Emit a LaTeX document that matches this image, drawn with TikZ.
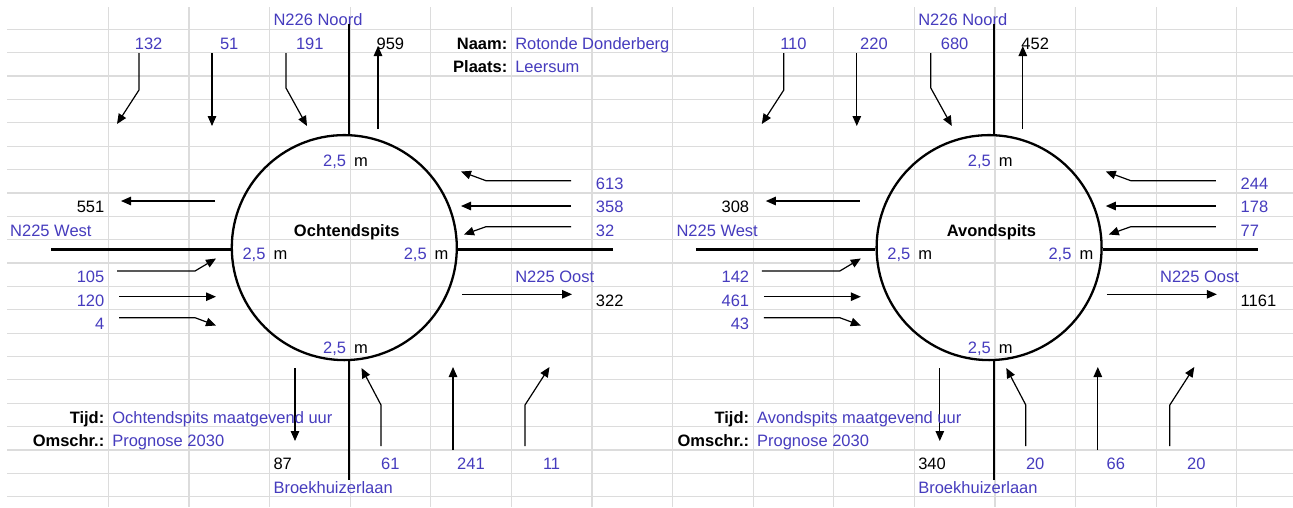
\documentclass[tikz,border=0pt]{standalone}
\usepackage{fontspec}
\setmainfont{Liberation Sans}
\usetikzlibrary{arrows.meta}
\definecolor{celltext}{RGB}{70,60,190}
\definecolor{gridgray}{RGB}{220,220,220}

% traffic counts: north in (3) / out, east in (3) / out
\newcommand{\flowsNE}[8]{\def\vNa{#1}\def\vNb{#2}\def\vNc{#3}\def\vNo{#4}%
  \def\vEa{#5}\def\vEb{#6}\def\vEc{#7}\def\vEo{#8}}
% traffic counts: west out / in (3), south out / in (3)
\newcommand{\flowsWS}[8]{\def\vWo{#1}\def\vWa{#2}\def\vWb{#3}\def\vWc{#4}%
  \def\vSo{#5}\def\vSa{#6}\def\vSb{#7}\def\vSc{#8}}

% one roundabout sheet: #1 x of the west road name, #2 title, #3 time text
\newcommand{\roundabout}[3]{%
  % the ring and its four roads
  \node[ring] (ring) at (344.3,247.6) {};
  \node[key, ct] (title) at (346.7,236.2) {#2};
  \coordinate (nend) at (349,24);
  \coordinate (send) at (349,480);
  \coordinate (wend) at (51,249.3);
  \coordinate (eend) at (613,249.3);
  \node[lab, lt] (nname) at (273.3,25.8) {N226 Noord};
  \node[lab, lt] (wname) at (#1,236.2) {N225 West};
  \node[lab, lt] (ename) at (515.1,282.9) {N225 Oost};
  \node[lab, lt] (sname) at (273.3,493.2) {Broekhuizerlaan};
  \draw[road] (nend) -- (ring.north -| nend);
  \draw[road] (send) -- (ring.south -| send);
  \draw[road] (wend) -- (ring.west |- wend);
  \draw[road] (eend) -- (ring.east |- eend);
  % lane widths
  \node[lab, rt] (wtop) at (346.3,166) {2,5};
  \node[blk, lt] (wtopm) at (353.9,166) {m};
  \node[lab, rt] (wlft) at (265.7,259.5) {2,5};
  \node[blk, lt] (wlftm) at (273.3,259.5) {m};
  \node[lab, rt] (wrgt) at (426.9,259.5) {2,5};
  \node[blk, lt] (wrgtm) at (434.5,259.5) {m};
  \node[lab, rt] (wbot) at (346.3,353) {2,5};
  \node[blk, lt] (wbotm) at (353.9,353) {m};
  % north arm
  \node[lab, ct] (nin1) at (148.6,49.2) {\vNa};
  \node[lab, ct] (nin2) at (229.2,49.2) {\vNb};
  \node[lab, ct] (nin3) at (309.8,49.2) {\vNc};
  \node[blk, ct] (nout) at (390.4,49.2) {\vNo};
  \coordinate (n1s) at (139,53);  \coordinate (n1e) at (117,124);
  \coordinate (n2s) at (212,53);  \coordinate (n2e) at (212,126);
  \coordinate (n3s) at (286,53);  \coordinate (n3e) at (307,126);
  \coordinate (nos) at (378,129); \coordinate (noe) at (378,46);
  \draw[flow] (n1s) -- (139,90) -- (n1e);
  \draw[flow] (n2s) -- (n2e);
  \draw[flow] (n3s) -- (286,88) -- (n3e);
  \draw[flow] (nos) -- (noe);
  % east arm
  \node[lab, lt] (ein1) at (595.7,189.4) {\vEa};
  \node[lab, lt] (ein2) at (595.7,212.8) {\vEb};
  \node[lab, lt] (ein3) at (595.7,236.2) {\vEc};
  \node[blk, lt] (eout) at (595.7,306.3) {\vEo};
  \coordinate (e1s) at (571,180.7); \coordinate (e1e) at (461,171.5);
  \coordinate (e2s) at (571,206);   \coordinate (e2e) at (461,206);
  \coordinate (e3s) at (571,226.7); \coordinate (e3e) at (464,234.5);
  \coordinate (eos) at (462,294.3); \coordinate (eoe) at (572,294.3);
  \draw[flow] (e1s) -- (486,180.7) -- (e1e);
  \draw[flow] (e2s) -- (e2e);
  \draw[flow] (e3s) -- (486,226.7) -- (e3e);
  \draw[flow] (eos) -- (eoe);
  % west arm
  \node[blk, rt] (wout) at (104.5,212.8) {\vWo};
  \node[lab, rt] (win1) at (104.5,282.9) {\vWa};
  \node[lab, rt] (win2) at (104.5,306.3) {\vWb};
  \node[lab, rt] (win3) at (104.5,329.6) {\vWc};
  \coordinate (wos) at (215,201);   \coordinate (woe) at (121,201);
  \coordinate (w1s) at (117,271);   \coordinate (w1e) at (216,258.5);
  \coordinate (w2s) at (119,296.7); \coordinate (w2e) at (216,296.7);
  \coordinate (w3s) at (119,317.7); \coordinate (w3e) at (216,325.5);
  \draw[flow] (wos) -- (woe);
  \draw[flow] (w1s) -- (195,271) -- (w1e);
  \draw[flow] (w2s) -- (w2e);
  \draw[flow] (w3s) -- (195,317.7) -- (w3e);
  % south arm
  \node[blk, lt] (sout) at (273.3,469.9) {\vSo};
  \node[lab, ct] (sin1) at (390.4,469.9) {\vSa};
  \node[lab, ct] (sin2) at (471.0,469.9) {\vSb};
  \node[lab, ct] (sin3) at (551.6,469.9) {\vSc};
  \coordinate (sos) at (295,368);   \coordinate (soe) at (295,441);
  \coordinate (s1s) at (381,446);   \coordinate (s1e) at (361.5,368);
  \coordinate (s2s) at (453,450);   \coordinate (s2e) at (453,367);
  \coordinate (s3s) at (525,446);   \coordinate (s3e) at (549.5,367);
  \draw[flow] (sos) -- (soe);
  \draw[flow] (s1s) -- (381,405) -- (s1e);
  \draw[flow] (s2s) -- (s2e);
  \draw[flow] (s3s) -- (525,405) -- (s3e);
  % period and description
  \node[key, rt] (tijdk) at (104.5,423.1) {Tijd:};
  \node[lab, lt] (tijdv) at (112.1,423.1) {#3};
  \node[key, rt] (omsk) at (104.5,446.5) {Omschr.:};
  \node[lab, lt] (omsv) at (112.1,446.5) {Prognose 2030};
}

\begin{document}
\begin{tikzpicture}[x=1pt,y=-1pt,
  txt/.style={inner sep=0pt, font=\fontsize{16.5}{19}\selectfont},
  lab/.style={txt, text=celltext},
  blk/.style={txt, text=black},
  key/.style={txt, font=\fontsize{16.5}{19}\selectfont\bfseries},
  lt/.style={anchor=base west},
  rt/.style={anchor=base east},
  ct/.style={anchor=base},
  flow/.style={line width=1.2pt, -{Triangle[length=10pt,width=8.5pt]}},
  road/.style={line width=2.6pt},
  ring/.style={circle, draw, line width=2.3pt, minimum size=225pt, inner sep=0pt},
  cellrule/.style={gridgray, line width=1.2pt}]
  \useasboundingbox (0,0) rectangle (1293,507);
  \fill[white] (0,0) rectangle (1293,507);

  % worksheet cell grid
  \foreach \k in {1,...,21}
    \draw[cellrule] (7,{5.96+23.37*\k}) -- (1293,{5.96+23.37*\k});
  \foreach \k in {0,...,14}
    \draw[cellrule] ({108.3+80.6*\k},7) -- ({108.3+80.6*\k},507);

  % morning peak
  \begin{scope}[name prefix=mo-]
    \flowsNE{132}{51}{191}{959}{613}{358}{32}{322}
    \flowsWS{551}{105}{120}{4}{87}{61}{241}{11}
    \roundabout{10}{Ochtendspits}{Ochtendspits maatgevend uur}
    \node[key, rt] (naamk) at (507.5,49.2) {Naam:};
    \node[lab, lt] (naamv) at (515.1,49.2) {Rotonde Donderberg};
    \node[key, rt] (plaatsk) at (507.5,72.6) {Plaats:};
    \node[lab, lt] (plaatsv) at (515.1,72.6) {Leersum};
  \end{scope}

  % evening peak
  \begin{scope}[xshift=644.8pt, name prefix=av-]
    \flowsNE{110}{220}{680}{452}{244}{178}{77}{1161}
    \flowsWS{308}{142}{461}{43}{340}{20}{66}{20}
    \roundabout{31.5}{Avondspits}{Avondspits maatgevend uur}
  \end{scope}
\end{tikzpicture}
\end{document}
